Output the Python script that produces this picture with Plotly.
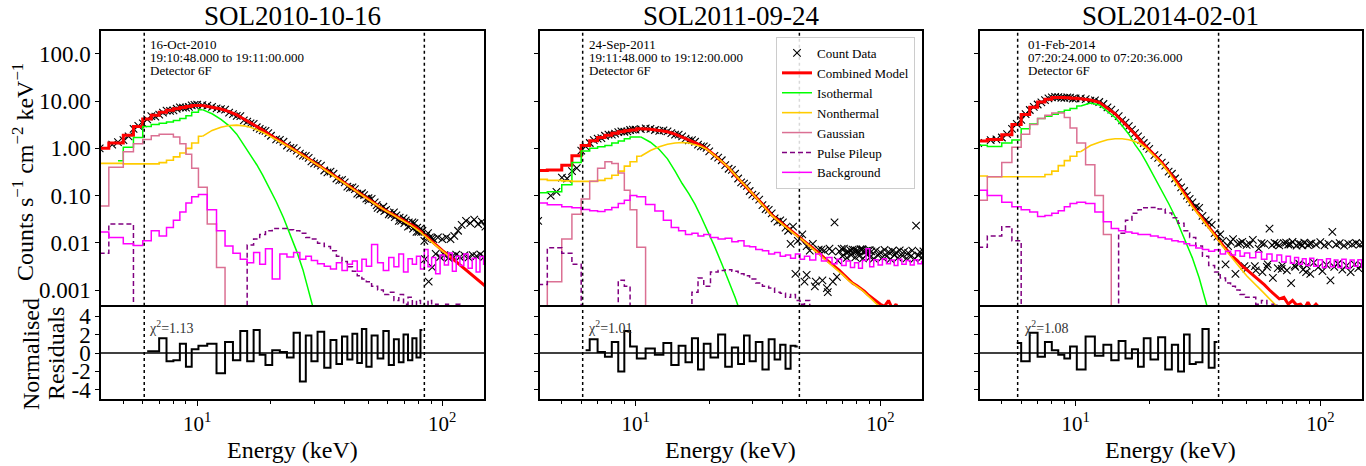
import plotly.graph_objects as go

# ---------------- data ----------------
FINE_E = [4.0, 4.75, 5.25, 5.75, 6.25, 6.75, 7.25, 7.75, 8.25, 8.75, 9.25, 9.75,
          10.5, 11.5, 12.5, 13.5, 14.5, 15.5, 16.5, 17.5, 18.5, 19.5,
          21, 22.5, 24, 25.5, 27, 28.5, 30,
          32, 34, 36, 38, 40, 42, 44, 46, 48, 50,
          53, 56, 59, 62, 65, 68, 71, 74, 77, 80, 83, 86, 89, 92,
          96, 100, 104, 108, 112, 116, 120, 125, 130, 135, 140, 145, 150]
MID_E = [4.5, 5.0, 5.5, 6.0, 6.5, 7.0, 7.5, 8.0, 8.5, 9.0, 9.5, 10.0,
         11, 12, 13, 14, 15, 16, 17, 18, 19, 20,
         21.75, 23.25, 24.75, 26.25, 27.75, 29.25,
         31, 33, 35, 37, 39, 41, 43, 45, 47, 49,
         51.5, 54.5, 57.5, 60.5, 63.5, 66.5, 69.5, 72.5, 75.5, 78.5, 81.5, 84.5, 87.5, 90.5]
EXTRA_E = [50, 54, 58, 61, 64, 67, 70, 73, 76, 79,
           82, 85, 88, 91, 94, 98, 102, 106, 110, 114,
           118, 123, 128, 133, 138, 143, 148]

TITLES = ["SOL2010-10-16", "SOL2011-09-24", "SOL2014-02-01"]
DATES = ["16-Oct-2010", "24-Sep-2011", "01-Feb-2014"]
TIMES = ["19:10:48.000 to 19:11:00.000", "19:11:48.000 to 19:12:00.000",
         "07:20:24.000 to 07:20:36.000"]
DETECTOR = "Detector 6F"
CHI2 = ["1.13", "1.01", "1.08"]
FIT_LO = [6.08, 6.08, 5.8]
FIT_HI = [84.5, 46.7, 38.4]

Y_TICKS = [100, 10, 1, 0.1, 0.01, 0.001]
Y_TICKTEXT = ["100.0", "10.00", "1.00", "0.10", "0.01", "0.001"]
R_TICKS = [4, 2, 0, -2, -4]
R_TICKTEXT = ["4", "2", "0", "-2", "-4"]
X_TICKS = [10, 100]
X_TICKTEXT = ["10<sup>1</sup>", "10<sup>2</sup>"]
X_MINOR = [5, 6, 7, 8, 9, 20, 30, 40, 50, 60, 70, 80, 90]

# ---- panel 1 ----
P1_COUNT = [1.0, 1.35, 1.8, 3.0, 4.1, 4.7, 5.7, 6.2, 6.9, 7.3, 7.6, 8.3,
            8.2, 7.6, 6.8, 5.7, 4.9, 3.9, 3.4, 2.8, 2.4, 2.1,
            1.55, 1.38, 1.02, 0.9, 0.7, 0.63, 0.48,
            0.43, 0.31, 0.29, 0.21, 0.19, 0.145, 0.137, 0.105, 0.102, 0.079,
            0.072, 0.052, 0.05, 0.039, 0.038, 0.029, 0.03, 0.023, 0.026, 0.017, 0.018, 0.014, 0.013, 0.012,
            0.013, 0.012, 0.013, 0.012, 0.014, 0.018, 0.024, 0.029, 0.026, 0.031, 0.025, 0.028, 0.022]
P1_MID = [1.2, 1.5, 2.6, 3.4, 4.8, 5.2, 6.3, 6.4, 7.4, 7.3, 8.1, 8.4,
          8.0, 7.0, 6.6, 5.3, 4.8, 3.7, 3.3, 2.6, 2.35, 1.85,
          1.52, 1.15, 1.01, 0.77, 0.69, 0.53,
          0.47, 0.34, 0.32, 0.23, 0.215, 0.155, 0.15, 0.11, 0.112, 0.086,
          0.085, 0.055, 0.058, 0.04, 0.044, 0.029, 0.033, 0.022, 0.027, 0.017, 0.02, 0.011, 0.016, 0.0125]
P1_EXTRA = [0.088, 0.063, 0.047, 0.043, 0.035, 0.034, 0.026, 0.027, 0.02, 0.021,
            0.017, 0.0045, 0.0015, 0.003, 0.0058, 0.005, 0.0055, 0.0048, 0.0052, 0.0056,
            0.005, 0.0054, 0.0049, 0.0055, 0.0052, 0.0057, 0.005]
P1_COMB = [1.0, 1.3, 1.9, 2.9, 4.2, 5.0, 5.8, 6.4, 6.9, 7.3, 7.7, 8.1,
           8.1, 7.5, 6.8, 6.0, 5.1, 4.2, 3.5, 2.9, 2.45, 2.05,
           1.62, 1.32, 1.07, 0.87, 0.72, 0.60, 0.50,
           0.41, 0.33, 0.27, 0.22, 0.182, 0.152, 0.131, 0.112, 0.098, 0.084,
           0.069, 0.056, 0.048, 0.042, 0.036, 0.031, 0.028, 0.025, 0.022, 0.019, 0.016, 0.0135, 0.0117, 0.0100,
           0.0083, 0.0069, 0.0059, 0.0050, 0.0043, 0.0036, 0.0032, 0.0026, 0.0022, 0.0019, 0.0016, 0.0014, 0.0012]
P1_ISO = [None, 0.55, 1.05, 1.7, 2.9, 3.2, 3.4, 3.6, 3.9, 4.3, 4.9, 5.8,
          6.6, 5.4, 4.1, 3.0, 2.0, 1.2, 0.75, 0.45, 0.27, 0.16,
          0.075, 0.034, 0.015, 0.0065, 0.0027, 0.001, 0.0004,
          0.0001]
P1_NONTH = [0.48, 0.48, 0.47, 0.47, 0.47, 0.47, 0.5, 0.56, 0.66, 0.8, 1.0, 1.3,
            1.8, 2.4, 2.8, 3.05, 3.1, 3.0, 2.8, 2.5, 2.2, 1.9,
            1.55, 1.25, 1.03, 0.85, 0.70, 0.58, 0.49,
            0.40, 0.32, 0.26, 0.215, 0.177, 0.148, 0.127, 0.109, 0.095, 0.082,
            0.067, 0.055, 0.047, 0.041, 0.035, 0.030, 0.027, 0.024, 0.021, 0.018, 0.0155, 0.013, 0.0113, 0.0097,
            0.0081, 0.0067, 0.0057, 0.0049]
P1_GAUSS = [0.06, 0.4, 0.85, 1.25, 1.55, 1.85, 2.0, 2.0, 1.75, 1.25, 0.75, 0.38,
            0.15, 0.025, 0.003, 1e-5]
P1_PILE = [0.006, 0.025, 0.025, 1e-5, 1e-5, 1e-5, 1e-5, 1e-5, 1e-5, 1e-5, 1e-5, 1e-5,
           1e-5, 1e-5, 1e-5, 1e-5, 1e-5, 1e-5, 0.009, 0.012, 0.015, 0.018,
           0.02, 0.02, 0.019, 0.018, 0.016, 0.013, 0.012,
           0.0098, 0.0083, 0.0068, 0.0052, 0.0040, 0.0031, 0.0025, 0.0020, 0.0017, 0.0015,
           0.0012, 0.001, 0.0008, 0.0009, 0.0006, 0.0008, 0.0005, 0.0007, 0.0004, 0.0006, 0.0005, 0.0003, 0.0006, 0.0004,
           0.0005, 0.0003, 0.0005, 0.0004, 0.0002, 0.0005, 0.0003, 0.0004, 0.0002, 0.0004, 0.0003, 0.0004, 0.0002]
P1_BKG = [0.017, 0.013, 0.0095, 0.0088, 0.011, 0.018, 0.014, 0.021, 0.03, 0.045, 0.07, 0.095,
          0.105, 0.05, 0.018, 0.0085, 0.006, 0.0045, 0.0038, 0.0062, 0.0035, 0.0075,
          0.0017, 0.0058, 0.005, 0.0062, 0.0045, 0.0052, 0.0042,
          0.0036, 0.0032, 0.0028, 0.0038, 0.0026, 0.0035, 0.0041, 0.0025, 0.0045, 0.0032,
          0.0092, 0.0038, 0.0026, 0.0049, 0.0031, 0.0058, 0.0024, 0.0046, 0.0035, 0.0052, 0.0028, 0.0072, 0.0031, 0.0049,
          0.0022, 0.0055, 0.0034, 0.0061, 0.0025, 0.0052, 0.0033, 0.0058, 0.0029, 0.0047, 0.0024, 0.0051, 0.0035]
P1_RESID = [None, None, None, None, 0.2, 0.2, 1.6, -0.9, -0.8, 1.0, -1.5, 0.4,
            0.8, 1.0, -2.2, 1.2, -0.8, 2.4, -0.9, 2.5, -0.2, -1.3,
            0.3, 0.1, -0.5, 2.2, -3.1, 1.9, -0.9,
            2.3, -1.6, 1.4, -1.2, 1.8, -0.7, 2.1, -1.1, 2.6, -1.5,
            1.9, -0.6, 2.4, -1.3, 1.5, -1.0, 2.0, -0.8, 1.6, -0.5, 2.5]

# ---- panel 2 ----
P2_COUNT = [0.029, 0.12, 0.23, 0.38, 1.1, 1.5, 1.65, 1.95, 2.05, 2.3, 2.3, 2.5,
            2.55, 2.6, 2.35, 2.3, 1.95, 1.8, 1.48, 1.38, 1.1, 1.02,
            0.69, 0.56, 0.37, 0.29, 0.19, 0.16, 0.105,
            0.082, 0.052, 0.042, 0.028, 0.027, 0.018, 0.022, 0.011, 0.015, 0.0085,
            0.0095, 0.0072, 0.0068, 0.0075, 0.027, 0.0066, 0.0075, 0.0064, 0.0072, 0.0067, 0.0073, 0.0065, 0.0069, 0.0066,
            0.0068, 0.0063, 0.0071, 0.0064, 0.0067, 0.0062, 0.0069, 0.0065, 0.0061, 0.0068, 0.023, 0.0064, 0.0066]
P2_MID = [0.1, 0.24, 0.33, 0.9, 1.3, 1.6, 1.85, 1.95, 2.2, 2.25, 2.45, 2.5,
          2.65, 2.45, 2.4, 2.1, 1.95, 1.6, 1.5, 1.2, 1.1, 0.86,
          0.64, 0.44, 0.35, 0.23, 0.18, 0.125,
          0.097, 0.063, 0.05, 0.033, 0.03, 0.021, 0.0095, 0.0022, 0.012, 0.0015,
          0.0068, 0.0015, 0.0072, 0.0011, 0.0066, 0.0019, 0.0074, 0.0063, 0.0069, 0.0071, 0.0065, 0.0073, 0.0067, 0.007]
P2_EXTRA = [0.0021, 0.0012, 0.0016, 0.0009, 0.0015, 0.0042, 0.0052, 0.0048, 0.0055, 0.0049,
            0.0053, 0.0047, 0.0056, 0.005, 0.0046, 0.0054, 0.0049, 0.0052, 0.0045, 0.0055,
            0.0048, 0.0053, 0.0047, 0.0051, 0.0046, 0.0054, 0.0049]
P2_COMB = [0.34, 0.35, 0.44, 0.7, 1.15, 1.45, 1.7, 1.9, 2.1, 2.25, 2.35, 2.45,
           2.6, 2.55, 2.4, 2.25, 2.0, 1.75, 1.52, 1.33, 1.15, 0.98,
           0.72, 0.53, 0.39, 0.27, 0.2, 0.15, 0.11,
           0.078, 0.055, 0.039, 0.031, 0.025, 0.021, 0.017, 0.014, 0.012, 0.0099,
           0.0076, 0.0061, 0.0048, 0.0039, 0.0032, 0.0026, 0.0021, 0.0017, 0.0014, 0.00125, 0.0011, 0.00095, 0.0008, 0.0007,
           0.0006, 0.0005, 0.00045, 0.0006, 0.0004, 0.0005, 0.0003, 0.0004, 0.0003, 0.0004, 0.0003, 0.0003, 0.0003]
P2_ISO = [0.115, 0.12, 0.17, 0.5, 0.88, 1.0, 1.08, 1.15, 1.3, 1.43, 1.6, 1.75,
          1.75, 1.35, 0.95, 0.6, 0.33, 0.18, 0.11, 0.065, 0.036, 0.02,
          0.0085, 0.0036, 0.0016, 0.0007, 0.0003]
P2_NONTH = [0.22, 0.21, 0.205, 0.2, 0.2, 0.2, 0.21, 0.23, 0.27, 0.33, 0.42, 0.52,
            0.68, 0.9, 1.08, 1.22, 1.3, 1.33, 1.3, 1.2, 1.1, 0.96,
            0.71, 0.53, 0.39, 0.27, 0.2, 0.15, 0.11,
            0.077, 0.054, 0.038, 0.030, 0.024, 0.020, 0.016, 0.0135, 0.0115, 0.0096,
            0.0074, 0.0059, 0.0046, 0.0038, 0.0031, 0.0025, 0.002, 0.0016, 0.0014, 0.0012, 0.00105, 0.0009, 0.00075, 0.00063,
            0.00052, 0.00043, 0.00036]
P2_GAUSS = [1e-5, 0.0015, 0.012, 0.04, 0.085, 0.2, 0.38, 0.52, 0.48, 0.3, 0.13, 0.05,
            0.008, 0.0002]
P2_PILE = [0.0013, 0.0079, 0.006, 0.0035, 1e-5, 1e-5, 1e-5, 1e-5, 1e-5, 0.0016, 0.0012, 1e-5,
           1e-5, 1e-5, 1e-5, 1e-5, 1e-5, 1e-5, 1e-5, 0.0009, 0.0018, 0.0012,
           0.0024, 0.0026, 0.0027, 0.0025, 0.0022, 0.002, 0.0017,
           0.0014, 0.0012, 0.0011, 0.0009, 0.00085, 0.0007, 0.0008, 0.0006, 0.0005, 0.0006,
           0.0004, 0.0003]
P2_BKG = [0.07, 0.064, 0.058, 0.055, 0.051, 0.048, 0.046, 0.05, 0.056, 0.068, 0.08, 0.1,
          0.095, 0.065, 0.047, 0.03, 0.021, 0.018, 0.015, 0.016, 0.014, 0.015,
          0.013, 0.012, 0.0125, 0.0105, 0.011, 0.0085, 0.0082,
          0.0072, 0.0068, 0.0058, 0.0062, 0.0052, 0.0055, 0.0047, 0.0058, 0.0045, 0.0052,
          0.0043, 0.0058, 0.0041, 0.0049, 0.0036, 0.0045, 0.0033, 0.0041, 0.003, 0.0038, 0.0029, 0.0042, 0.0075, 0.0031,
          0.0044, 0.0034, 0.0046, 0.0036, 0.0043, 0.0033, 0.0045, 0.0035, 0.0042, 0.0034, 0.0044, 0.0036, 0.004]
P2_RESID = [None, None, None, None, 0.3, 1.5, 0.1, -0.4, 1.2, -2.0, 2.4, 0.7,
            -0.6, 0.5, -0.2, 1.1, -1.3, 0.8, -1.0, 1.6, -1.8, 1.0,
            -0.5, 2.0, -1.5, 0.6, -1.2, 1.9, -0.9,
            1.2, -1.8, 1.5, -0.7, 0.9, -1.7, 0.8, 0.7]

# ---- panel 3 ----
P3_COUNT = [1.3, 1.55, 2.0, 3.3, 5.3, 7.6, 9.4, 11.5, 12.3, 11.8, 12.0, 11.3,
            11.4, 10.3, 9.6, 7.4, 5.6, 3.9, 2.95, 2.1, 1.5, 1.12,
            0.72, 0.5, 0.32, 0.23, 0.15, 0.1, 0.072,
            0.055, 0.03, 0.024, 0.0135, 0.011, 0.0085, 0.012, 0.0095, 0.0105, 0.009,
            0.0115, 0.0075, 0.0095, 0.02, 0.01, 0.0088, 0.0098, 0.0092, 0.0105, 0.0087, 0.0094, 0.0101, 0.0089, 0.0097,
            0.0091, 0.0103, 0.0088, 0.0095, 0.017, 0.0092, 0.0098, 0.0087, 0.0096, 0.0093, 0.0099, 0.0091, 0.0095]
P3_MID = [1.5, 1.7, 2.6, 4.0, 6.5, 8.5, 10.5, 12.0, 12.2, 11.7, 11.9, 11.5,
          11.1, 10.4, 8.7, 6.6, 4.8, 3.5, 2.5, 1.8, 1.3, 0.98,
          0.63, 0.43, 0.29, 0.19, 0.125, 0.085,
          0.058, 0.037, 0.027, 0.016, 0.015, 0.0035, 0.0105, 0.0022, 0.0098, 0.0032,
          0.0094, 0.0026, 0.0098, 0.0031, 0.0089, 0.0095, 0.0028, 0.0101, 0.0092, 0.0033, 0.0097, 0.0088, 0.0024, 0.0096]
P3_EXTRA = [0.0028, 0.0032, 0.0024, 0.0035, 0.0018, 0.0029, 0.0033, 0.0026, 0.0014, 0.0031,
            0.0036, 0.0027, 0.0033, 0.0022, 0.0038, 0.003, 0.0025, 0.0034, 0.0016, 0.0031,
            0.0036, 0.0027, 0.0033, 0.0024, 0.0035, 0.0029, 0.0033]
P3_COMB = [1.43, 1.55, 1.95, 3.2, 5.2, 7.4, 9.6, 11.0, 12.0, 12.0, 11.8, 11.5,
           11.2, 10.6, 9.4, 7.2, 5.4, 3.8, 2.8, 2.0, 1.42, 1.05,
           0.72, 0.5, 0.33, 0.22, 0.14, 0.092, 0.062,
           0.04, 0.026, 0.018, 0.0125, 0.0088, 0.0066, 0.005, 0.0041, 0.0032, 0.0027,
           0.0021, 0.0016, 0.0013, 0.001, 0.0008, 0.00065, 0.0007, 0.0005, 0.0006, 0.00048, 0.0005, 0.0004, 0.00055, 0.0004,
           0.0005, 0.0004]
P3_ISO = [1.17, 1.1, 1.3, 1.5, 2.6, 3.3, 4.3, 4.8, 5.3, 5.9, 6.4, 7.0,
          7.9, 9.1, 8.3, 6.1, 4.5, 3.0, 2.0, 1.2, 0.8, 0.5,
          0.25, 0.13, 0.068, 0.036, 0.018, 0.0095, 0.0048,
          0.0018, 0.0006, 0.0002]
P3_NONTH = [0.26, 0.25, 0.25, 0.25, 0.25, 0.25, 0.25, 0.28, 0.33, 0.43, 0.55, 0.68,
            0.85, 1.15, 1.35, 1.52, 1.6, 1.6, 1.52, 1.4, 1.22, 1.0,
            0.68, 0.47, 0.31, 0.2, 0.13, 0.085, 0.058,
            0.038, 0.025, 0.017, 0.012, 0.0083, 0.006, 0.0045, 0.0034, 0.0026, 0.002,
            0.0015, 0.0011, 0.00085, 0.00065, 0.0005, 0.0004]
P3_GAUSS = [0.08, 0.25, 0.5, 1.05, 2.0, 3.2, 4.3, 5.0, 5.6, 5.6, 4.5, 2.7,
            1.3, 0.45, 0.1, 0.015, 1e-5]
P3_PILE = [0.008, 0.014, 0.022, 0.011, 1e-5, 1e-5, 1e-5, 1e-5, 1e-5, 1e-5, 1e-5, 1e-5,
           1e-5, 1e-5, 1e-5, 1e-5, 1e-5, 0.016, 0.03, 0.042, 0.05, 0.055,
           0.056, 0.052, 0.043, 0.034, 0.026, 0.018, 0.013,
           0.0085, 0.0052, 0.0033, 0.0024, 0.0018, 0.0014, 0.0012, 0.001, 0.0008, 0.0007,
           0.0007, 0.0005, 0.0006, 0.0004, 0.0005, 0.0003, 1e-5]
P3_BKG = [0.13, 0.1, 0.072, 0.058, 0.05, 0.045, 0.036, 0.038, 0.042, 0.048, 0.058, 0.068,
          0.072, 0.068, 0.045, 0.028, 0.02, 0.018, 0.017, 0.016, 0.015, 0.015,
          0.014, 0.013, 0.012, 0.011, 0.0105, 0.0095, 0.0088,
          0.0078, 0.0072, 0.0066, 0.0071, 0.0058, 0.0066, 0.0055, 0.0068, 0.0052, 0.0061,
          0.0048, 0.0063, 0.0045, 0.0058, 0.0041, 0.0055, 0.0039, 0.0052, 0.0037, 0.0049, 0.0035, 0.0046, 0.0033, 0.0047,
          0.0032, 0.0044, 0.003, 0.0046, 0.0031, 0.0043, 0.003, 0.0045, 0.0029, 0.0043, 0.0032, 0.0044, 0.003]
P3_RESID = [None, None, None, 1.1, -0.9, 2.2, -0.4, 1.2, 0.3, -0.2, -0.6, 0.7,
            -1.8, 1.8, -0.3, 0.9, -0.8, 1.3, -0.6, 0.4, -1.5, 1.6,
            -0.7, 1.7, -1.8, 0.9, -2.0, 2.0, -1.2,
            -1.0, 2.6, -1.6, 1.2]

PANEL_DATA = [
    dict(count=P1_COUNT, mid=P1_MID, extra=P1_EXTRA, comb=P1_COMB, iso=P1_ISO, nonth=P1_NONTH,
         gauss=P1_GAUSS, pile=P1_PILE, bkg=P1_BKG, resid=P1_RESID),
    dict(count=P2_COUNT, mid=P2_MID, extra=P2_EXTRA, comb=P2_COMB, iso=P2_ISO, nonth=P2_NONTH,
         gauss=P2_GAUSS, pile=P2_PILE, bkg=P2_BKG, resid=P2_RESID),
    dict(count=P3_COUNT, mid=P3_MID, extra=P3_EXTRA, comb=P3_COMB, iso=P3_ISO, nonth=P3_NONTH,
         gauss=P3_GAUSS, pile=P3_PILE, bkg=P3_BKG, resid=P3_RESID),
]

N = len(FINE_E)
SPLIT = 12  # index of 10.5 keV: stepped below, smooth above for the model curves


def pad(v, n=N):
    assert len(v) <= n, len(v)
    return list(v) + [None] * (n - len(v))


# ---------------- layout geometry ----------------
W, H = 1366, 466
FONT = "Liberation Serif, Times New Roman, serif"
PX_X = [(101, 484), (539.5, 922), (979.5, 1362)]
MAIN_Y = (31, 307)
RES_Y = (307, 399)


def fx(px):
    return px / W


def fy(py):
    return 1 - py / H


X_RANGE = [0.6075, 2.1703]

fig = go.Figure()

STYLE = [
    ("comb", "Combined Model", "#FF0000", 3.0, "solid", True),
    ("iso", "Isothermal", "#00FF00", 1.5, "solid", True),
    ("nonth", "Nonthermal", "#FFCC00", 1.6, "solid", True),
    ("gauss", "Gaussian", "#DB7093", 1.5, "solid", False),
    ("pile", "Pulse Pileup", "#800080", 1.5, "5px,3px", False),
    ("bkg", "Background", "#FF00FF", 1.5, "solid", False),
]

for i, d in enumerate(PANEL_DATA):
    xm, ym = f"x{i + 1}", f"y{i + 1}"
    xr, yr = f"x{i + 4}", f"y{i + 4}"
    show = i == 0
    fig.add_trace(go.Scatter(
        x=FINE_E + MID_E + EXTRA_E,
        y=pad(d["count"]) + pad(d["mid"], len(MID_E)) + list(d["extra"]), mode="markers",
        name="Count Data", legendgroup="count", showlegend=show,
        marker=dict(symbol="x-thin", size=7.5, color="black", line=dict(width=1.1, color="black")),
        xaxis=xm, yaxis=ym))
    for key, name, col, wdt, dash, smooth in STYLE:
        yv = pad(d[key])
        ln = dict(color=col, width=wdt, dash=dash)
        if smooth:
            fig.add_trace(go.Scatter(
                x=FINE_E[:SPLIT + 1], y=yv[:SPLIT + 1], mode="lines", line_shape="hvh",
                name=name, legendgroup=key, showlegend=show, line=ln,
                xaxis=xm, yaxis=ym))
            fig.add_trace(go.Scatter(
                x=FINE_E[SPLIT:], y=yv[SPLIT:], mode="lines", line_shape="linear",
                name=name, legendgroup=key, showlegend=False, line=ln,
                xaxis=xm, yaxis=ym))
        else:
            fig.add_trace(go.Scatter(
                x=FINE_E, y=yv, mode="lines", line_shape="hvh",
                name=name, legendgroup=key, showlegend=show, line=ln,
                xaxis=xm, yaxis=ym))
    # fit range lines
    for e in (FIT_LO[i], FIT_HI[i]):
        fig.add_trace(go.Scatter(x=[e, e], y=[1e-6, 1e5], mode="lines", showlegend=False,
                                 line=dict(color="black", width=1.5, dash="dot"),
                                 xaxis=xm, yaxis=ym, hoverinfo="skip"))
        fig.add_trace(go.Scatter(x=[e, e], y=[-10, 10], mode="lines", showlegend=False,
                                 line=dict(color="black", width=1.5, dash="dot"),
                                 xaxis=xr, yaxis=yr, hoverinfo="skip"))
    # residuals
    fig.add_trace(go.Scatter(x=[3, 200], y=[0, 0], mode="lines", showlegend=False,
                             line=dict(color="black", width=1.5), xaxis=xr, yaxis=yr))
    fig.add_trace(go.Scatter(x=FINE_E, y=pad(d["resid"]), mode="lines", line_shape="hvh",
                             showlegend=False, connectgaps=False,
                             line=dict(color="black", width=2), xaxis=xr, yaxis=yr))

axis_common = dict(showgrid=False, zeroline=False, showline=True, linecolor="black",
                   linewidth=1.5, mirror=True, ticks="outside", tickcolor="black",
                   tickwidth=1.2, ticklen=4, tickfont=dict(family=FONT, size=23, color="black"))

layout = dict(width=W, height=H, margin=dict(l=0, r=0, t=0, b=0),
              paper_bgcolor="white", plot_bgcolor="white", template="none",
              font=dict(family=FONT, color="black"))

for i in range(3):
    x0, x1 = PX_X[i]
    dom_x = [fx(x0), fx(x1)]
    sfx_m = "" if i == 0 else str(i + 1)
    sfx_r = str(i + 4)
    layout["xaxis" + sfx_m] = dict(axis_common, type="log", range=X_RANGE, domain=dom_x,
                                   anchor="y" + sfx_m, showticklabels=False, side="top",
                                   mirror=False, tickvals=X_TICKS, ticks="")
    layout["yaxis" + sfx_m] = dict(axis_common, type="log", range=[-3.36, 2.486],
                                   domain=[fy(MAIN_Y[1]), fy(MAIN_Y[0])], anchor="x" + sfx_m,
                                   tickvals=Y_TICKS, ticktext=Y_TICKTEXT,
                                   showticklabels=(i == 0))
    layout["xaxis" + sfx_r] = dict(axis_common, type="log", range=X_RANGE, domain=dom_x,
                                   anchor="y" + sfx_r, tickvals=X_TICKS, ticktext=X_TICKTEXT,
                                   ticklen=5, tickfont=dict(family=FONT, size=21, color="black"),
                                   minor=dict(tickvals=X_MINOR, ticklen=3, ticks="outside",
                                              tickcolor="black", tickwidth=1))
    layout["yaxis" + sfx_r] = dict(axis_common, range=[-5, 5],
                                   domain=[fy(RES_Y[1]), fy(RES_Y[0])], anchor="x" + sfx_r,
                                   tickvals=R_TICKS, ticktext=R_TICKTEXT,
                                   showticklabels=(i == 0))

ann = []
for i in range(3):
    x0, x1 = PX_X[i]
    cx = (x0 + x1) / 2
    ann.append(dict(text=TITLES[i], x=fx(cx), y=fy(16), xref="paper", yref="paper",
                    showarrow=False, xanchor="center", yanchor="middle",
                    font=dict(family=FONT, size=27, color="black")))
    ann.append(dict(text="Energy (keV)", x=fx(cx), y=fy(450), xref="paper", yref="paper",
                    showarrow=False, xanchor="center", yanchor="middle",
                    font=dict(family=FONT, size=24, color="black")))
    tx = [148, 587, 1026][i]
    for line, yy in zip([DATES[i], TIMES[i], DETECTOR], [44, 57, 70.5]):
        ann.append(dict(text=line, x=fx(tx), y=fy(yy), xref="paper", yref="paper",
                        showarrow=False, xanchor="left", yanchor="middle",
                        font=dict(family=FONT, size=13, color="black")))
    cxl = [147, 586, 1022][i]
    ann.append(dict(text="χ<sup>2</sup>=" + CHI2[i], x=fx(cxl), y=fy(327), xref="paper",
                    yref="paper", showarrow=False, xanchor="left", yanchor="middle",
                    font=dict(family=FONT, size=14, color="#333333")))

ann.append(dict(text="Counts s<sup>−1</sup> cm<sup>−2</sup> keV<sup>−1</sup>", x=fx(23), y=fy(172),
                xref="paper", yref="paper", showarrow=False, textangle=-90,
                xanchor="center", yanchor="middle", font=dict(family=FONT, size=24, color="black")))
ann.append(dict(text="Normalised", x=fx(31), y=fy(354), xref="paper", yref="paper",
                showarrow=False, textangle=-90, xanchor="center", yanchor="middle",
                font=dict(family=FONT, size=24, color="black")))
ann.append(dict(text="Residuals", x=fx(56), y=fy(354), xref="paper", yref="paper",
                showarrow=False, textangle=-90, xanchor="center", yanchor="middle",
                font=dict(family=FONT, size=24, color="black")))
layout["annotations"] = ann

layout["legend"] = dict(x=fx(915), y=fy(37), xanchor="right", yanchor="top",
                        bgcolor="rgba(255,255,255,0.85)", bordercolor="#cccccc", borderwidth=1,
                        font=dict(family=FONT, size=13, color="black"), itemwidth=30,
                        tracegroupgap=0)
layout["showlegend"] = True

fig.update_layout(**layout)
fig.write_html("out.html")
